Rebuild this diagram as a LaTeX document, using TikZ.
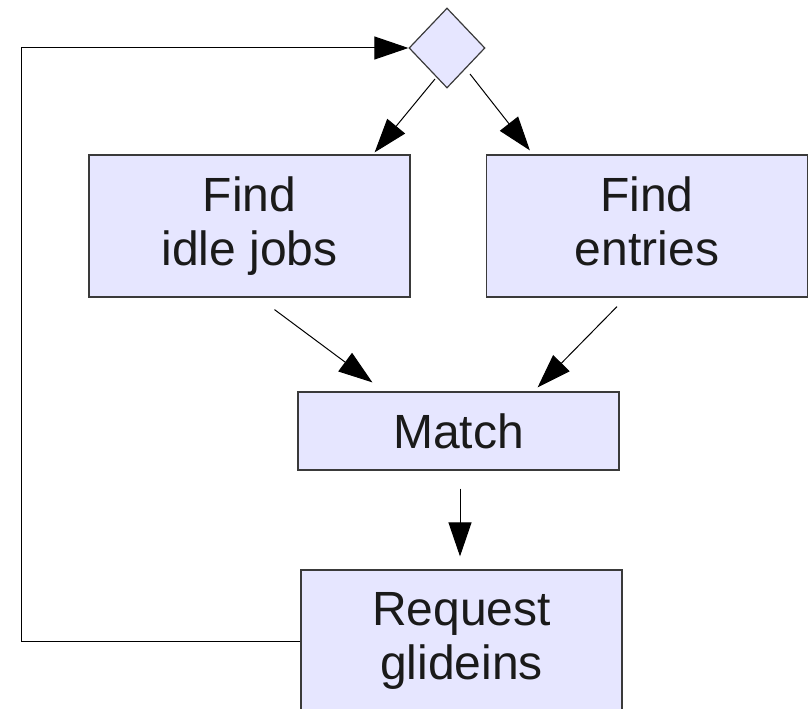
\documentclass[tikz,border=0pt]{standalone}
\usepackage{fontspec}
\setmainfont{Liberation Sans}
\usepackage{tikz}
\usetikzlibrary{positioning,arrows.meta,shapes.geometric}
\definecolor{boxfill}{HTML}{E6E6FF}
\definecolor{boxline}{HTML}{3A3A3A}
\definecolor{txt}{HTML}{1A1A1A}
\tikzset{
  stepbox/.style={rectangle, draw=boxline, fill=boxfill, line width=1.2pt, inner sep=0pt,
                  minimum width=321pt, minimum height=142pt, align=center, text=txt,
                  font=\fontsize{48}{54}\selectfont},
  decision/.style={diamond, draw=boxline, fill=boxfill, line width=1.2pt, inner sep=0pt,
                   minimum width=76pt, minimum height=80pt},
  fwd/.style={-{Triangle[length=34pt,width=23pt]}, line width=1pt, draw=black},
}
\begin{document}
\begin{tikzpicture}[x=1pt,y=-1pt]
  \useasboundingbox (0,0) rectangle (812,709);

  \node[decision] (dec) at (447,48) {};
  \node[stepbox] (idle) at (249.5,226) {Find\\idle jobs};
  \node[stepbox] (entries) at (647,226) {Find\\entries\vphantom{j}};
  \node[stepbox, minimum height=78pt] (match) at (458.5,431) {Match};
  \node[stepbox] (req) at (461.5,641) {Request\\glideins};

  \draw[fwd] ([xshift=-12pt,yshift=-31pt]dec.center) -- ([xshift=-36pt,yshift=2pt]idle.north east);
  \draw[fwd] ([xshift=23pt,yshift=-26pt]dec.center) -- ([xshift=44pt,yshift=4pt]entries.north west);
  \draw[fwd] ([xshift=25pt,yshift=-12pt]idle.south) -- ([xshift=75pt,yshift=9pt]match.north west);
  \draw[fwd] ([xshift=-30pt,yshift=-9pt]entries.south) -- ([xshift=-82pt,yshift=4pt]match.north east);
  \draw[fwd] ([xshift=1.5pt,yshift=-18pt]match.south) -- ([xshift=-1.5pt,yshift=13pt]req.north);

  % loop back to the decision
  \draw[fwd] (req.west) -- ++(-279,0) |- (dec.west);

\end{tikzpicture}
\end{document}
